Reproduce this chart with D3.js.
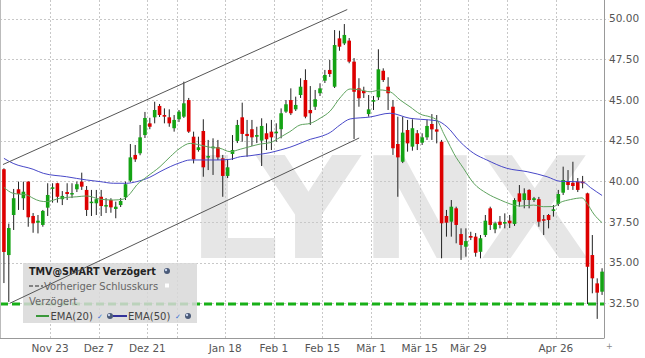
<!DOCTYPE html>
<html>
<head>
<meta charset="utf-8">
<script src="https://cdn.jsdelivr.net/npm/d3@7"></script>
<style>
  body { margin: 0; background: #fff; }
  text { font-family: "DejaVu Sans", Verdana, sans-serif; }
</style>
</head>
<body>
<div id="chart"></div>
<script>
// candles, one per trading day (index 0..123)
const opens = [40.74,35.47,37.93,39.51,38.96,39.98,37.87,37.46,37.32,38.38,39.55,39.88,38.9,39.34,39.2,39.51,39.98,39.47,38.69,38.65,
  39.05,38.48,38.85,38.3,38.54,39.02,40.04,41.62,41.72,42.84,43.56,43.93,44.63,44.07,43.93,43.26,43.81,43.97,44.99,42.74,
  41.92,43.09,41.47,42.03,42.09,41.41,40.33,41.68,42.48,43.93,42.91,43.2,42.74,42.5,42.95,43.05,42.95,43.2,44.28,44.99,
  44.42,45.3,46.22,44.38,44.58,45.41,46.18,46.84,45.81,48.78,48.47,48.64,47.35,45.71,45.56,44.13,44.89,45.16,46.79,45.81,
  44.58,42.29,41.2,43.15,42.13,42.95,42.37,42.7,43.52,43.19,42.43,37.87,37.52,38.34,36.76,35.98,36.64,36.6,35.67,36.7,
  38.34,37.05,37.52,37.4,37.58,37.38,39.26,38.85,39.47,38.85,38.9,37.67,37.93,38.18,38.61,39.3,39.98,39.91,39.98,39.98,
  39.26,35.47,33.73,33.22];
const highs = [40.8,37.4,39.53,39.98,39.98,40.0,38.05,37.93,38.24,39.88,39.88,39.91,39.4,39.88,39.88,39.98,40.53,39.71,39.47,39.47,
  39.47,38.97,38.96,38.75,38.97,39.98,42.29,42.23,43.46,44.26,43.9,44.89,44.75,44.48,44.42,44.07,44.38,46.12,45.12,43.05,
  42.74,43.81,42.54,42.64,42.54,41.62,41.31,42.84,43.77,44.83,43.77,43.77,43.35,43.87,43.56,43.77,43.56,44.48,44.99,45.71,
  45.2,46.33,46.88,45.85,45.61,46.02,46.84,47.45,49.29,49.25,49.66,48.8,47.57,46.33,45.81,45.3,45.24,48.11,46.94,46.39,
  44.99,43.97,43.97,43.77,43.81,43.15,42.95,43.77,44.13,44.07,42.54,38.24,38.85,38.44,37.11,37.11,36.9,36.82,36.7,37.93,
  38.44,37.52,37.87,38.03,37.93,38.96,39.77,39.57,39.51,39.04,39.04,37.93,37.99,38.54,39.47,40.9,40.69,41.2,40.2,40.33,
  39.3,36.7,34.04,34.66];
const lows = [33.75,32.59,37.01,38.24,38.24,37.21,36.84,36.8,37.21,37.87,38.69,38.69,38.54,38.85,38.97,39.34,39.47,37.87,37.87,37.93,
  37.87,38.05,38.07,37.73,38.42,38.85,39.96,41.19,41.6,42.66,43.2,43.56,43.95,43.56,43.35,43.05,43.64,43.89,42.97,41.1,
  41.82,40.28,40.69,40.39,41.31,39.05,40.2,41.31,42.35,42.43,41.51,42.17,42.35,40.94,41.92,41.92,42.43,42.64,44.2,44.07,
  44.32,45.12,43.87,43.46,44.38,45.24,46.04,46.41,45.73,48.02,48.37,47.25,42.6,44.58,45.12,43.97,44.38,44.99,46.1,44.38,
  41.62,39.05,41.12,41.82,41.88,41.92,42.23,42.54,42.54,42.33,35.27,36.6,36.6,36.19,35.17,35.37,36.39,35.37,35.27,36.58,
  37.01,36.81,37.11,37.11,37.13,37.26,38.44,38.34,38.34,38.73,37.21,36.7,37.11,37.83,38.48,39.16,39.47,39.47,39.34,39.57,
  32.46,33.12,31.55,33.02];
const closes = [35.66,37.13,38.96,39.22,39.36,37.79,37.42,37.58,38.18,39.16,39.63,39.05,39.1,39.22,39.28,39.82,39.67,38.24,38.75,38.9,
  38.48,38.54,38.4,38.44,38.79,39.82,41.47,41.35,42.7,43.89,43.35,44.38,44.07,43.97,43.56,43.77,44.28,44.79,43.05,41.35,
  42.09,40.86,41.55,42.13,41.47,40.33,40.86,41.92,43.46,42.91,42.78,42.7,42.84,43.4,42.58,42.7,43.05,44.18,44.73,44.18,
  44.69,45.81,43.97,44.18,45.04,45.71,46.53,46.59,48.37,48.27,48.99,47.35,45.5,45.1,45.41,44.42,44.99,46.88,46.22,45.41,
  42.03,41.47,42.99,42.33,43.26,42.29,42.7,43.4,43.19,43.05,37.42,37.46,38.44,37.32,36.09,36.33,36.54,35.61,36.5,37.58,
  37.32,37.42,37.32,37.5,37.42,38.85,38.75,39.26,38.85,38.96,37.52,37.58,37.62,38.28,39.22,40.08,39.77,39.71,39.47,39.88,
  34.75,34.04,33.16,34.45];

// EMA lines: [candle index, value]
const ema20 = [[0,39.63],[1.9,39.26],[4.7,39.16],[6,38.96],[7.4,38.79],[8.8,38.75],[11.5,38.96],[15,39.05],[17,39.1],[19.8,38.9],
  [22.5,38.85],[24.5,38.9],[26,39.26],[27.3,39.77],[29.4,40.28],[32.1,40.9],[34.2,41.51],[36.2,42.03],[38.3,42.33],[40.3,42.23],
  [42.4,42.09],[44.4,42.03],[46.5,41.82],[48.6,41.97],[50.6,42.13],[52.7,42.29],[54.7,42.37],[56.8,42.7],[58.8,43.05],[60.9,43.46],
  [63,43.56],[65,43.87],[67.1,44.32],[69.1,45.12],[71.2,45.67],[73.3,45.61],[75.3,45.5],[77.4,45.61],[79.4,45.5],[81.5,44.99],
  [83.5,44.58],[85.6,44.13],[87.7,43.95],[89,43.77],[90.4,42.95],[91.8,42.13],[92.5,41.72],[94.5,40.8],[96.6,39.88],[99.3,39.26],
  [102.1,38.85],[104.1,38.61],[106.2,38.48],[108.9,38.54],[111,38.44],[113,38.45],[114.4,38.7],[116.5,38.88],[118.9,38.98],[119.9,38.65],
  [121.3,37.99],[123,37.46]];
const ema50 = [[0,41.41],[1.9,41.1],[6,40.74],[8.1,40.49],[12.9,40.28],[17,40.08],[19.8,39.98],[22.5,39.88],[25.2,39.88],[27.3,39.98],
  [30,40.25],[32.1,40.59],[34.2,40.9],[36.2,41.14],[38.3,41.31],[40.3,41.31],[43.8,41.31],[46.5,41.35],[48.6,41.51],[50.6,41.57],
  [52.7,41.66],[54.7,41.76],[56.8,41.92],[58.8,42.09],[60.9,42.33],[63,42.58],[65,42.74],[67.1,43.0],[69.1,43.46],[71.2,43.83],
  [75.3,43.95],[79.4,44.18],[83.5,43.87],[85.6,43.81],[89,43.72],[91.1,43.35],[93.8,42.43],[96.6,41.72],[99.3,41.31],[103.4,40.8],
  [107.6,40.59],[111.7,40.28],[114.4,40.0],[117.2,39.98],[119.2,39.93],[120.6,39.62],[123,39.13]];

// trend channel drawn by hand on the chart
const upperChannel = [[-0.2,41.03],[70.6,50.55]];
const lowerChannel = [[1.23,32.51],[73.05,42.66]];
const prevClose = 32.47;

const tickIdx = [10,20,30,36,46,56,66,76,86,96,104,114];
const tickText = ["Nov 23","Dez 7","Dez 21","","Jan 18","Feb 1","Feb 15","Mär 1","Mär 15","Mär 29","","Apr 26"];
const yTicks = [32.5,35,37.5,40,42.5,45,47.5,50];

const W = 645, H = 358;
const plotRight = 604.5, plotBottom = 338;
const up = "#14a314", down = "#dd0000";

const svg = d3.select("#chart").append("svg")
  .attr("width", W).attr("height", H);

const defs = svg.append("defs");
defs.append("filter").attr("id", "blur")
  .attr("x", "-5%").attr("y", "-200%").attr("width", "110%").attr("height", "500%")
  .append("feGaussianBlur").attr("stdDeviation", 1.6);

const x = d3.scaleLinear().domain([0, opens.length]).range([1.5, plotRight]);
const y = d3.scaleLinear().domain([32.5, 50]).range([303.4, 18.5]);
const bodyW = 3.6;

// watermark
svg.append("text")
  .attr("x", 188).attr("y", 258)
  .attr("textLength", 402).attr("lengthAdjust", "spacingAndGlyphs")
  .style("font-size", "140px").style("font-weight", "bold")
  .style("fill", "#e6e6e6")
  .text("LYNX");

// grid
const grid = svg.append("g").attr("stroke", "#c8c8c8").attr("stroke-dasharray", "2,2").attr("stroke-width", 1);
grid.selectAll(".hg").data(yTicks).enter().append("line")
  .attr("x1", 0).attr("x2", plotRight + 4)
  .attr("y1", d => Math.round(y(d)) + 0.5).attr("y2", d => Math.round(y(d)) + 0.5);
grid.selectAll(".vg").data(tickIdx).enter().append("line")
  .attr("x1", d => Math.round(x(d)) + 0.5).attr("x2", d => Math.round(x(d)) + 0.5)
  .attr("y1", 0).attr("y2", plotBottom);

// candles
const idx = d3.range(opens.length);
const candles = svg.append("g");
candles.selectAll(".wick").data(idx).enter().append("line")
  .attr("x1", i => x(i + 0.5)).attr("x2", i => x(i + 0.5))
  .attr("y1", i => y(highs[i])).attr("y2", i => y(lows[i]))
  .attr("stroke", "#222").attr("stroke-width", 1);
candles.selectAll(".body").data(idx).enter().append("rect")
  .attr("x", i => x(i + 0.5) - bodyW / 2)
  .attr("width", bodyW)
  .attr("y", i => y(Math.max(opens[i], closes[i])))
  .attr("height", i => Math.max(1.5, Math.abs(y(opens[i]) - y(closes[i]))))
  .attr("fill", i => closes[i] >= opens[i] ? up : down);

// EMAs
const line = d3.line().x(d => x(d[0] + 0.5)).y(d => y(d[1]));
const smooth = d3.line().curve(d3.curveMonotoneX).x(d => x(d[0] + 0.5)).y(d => y(d[1]));
svg.append("path").datum(ema50).attr("d", smooth)
  .attr("fill", "none").attr("stroke", "#4848c8").attr("stroke-width", 1);
svg.append("path").datum(ema20).attr("d", smooth)
  .attr("fill", "none").attr("stroke", "#5ea35e").attr("stroke-width", 1);

// previous close, with soft shadow
svg.append("line")
  .attr("x1", 0).attr("x2", plotRight).attr("y1", y(prevClose) + 3).attr("y2", y(prevClose) + 3)
  .attr("stroke", "#888").attr("stroke-width", 3).attr("filter", "url(#blur)").attr("opacity", 0.7);
svg.append("line")
  .attr("x1", 0).attr("x2", plotRight).attr("y1", y(prevClose)).attr("y2", y(prevClose))
  .attr("stroke", "#18b018").attr("stroke-width", 3).attr("stroke-dasharray", "8,4");

// axes frame
svg.append("line").attr("x1", plotRight).attr("x2", plotRight).attr("y1", 0).attr("y2", plotBottom)
  .attr("stroke", "#999");
svg.append("line").attr("x1", 0).attr("x2", plotRight).attr("y1", plotBottom + 0.5).attr("y2", plotBottom + 0.5)
  .attr("stroke", "#999");
svg.append("line").attr("x1", 0.5).attr("x2", 0.5).attr("y1", 0).attr("y2", plotBottom)
  .attr("stroke", "#bbb");

svg.selectAll(".yl").data(yTicks).enter().append("text")
  .attr("x", 609).attr("y", d => y(d)).attr("dy", "0.36em")
  .style("font-size", "10.5px").style("fill", "#555")
  .text(d => d3.format(".2f")(d));

svg.selectAll(".xl").data(tickIdx).enter().append("text")
  .attr("x", d => x(d)).attr("y", 352)
  .attr("text-anchor", "middle")
  .style("font-size", "10.5px").style("fill", "#555")
  .text((d, i) => tickText[i]);

svg.append("text").attr("x", 606).attr("y", 349)
  .style("font-size", "8px").style("fill", "#888").text("+");

// legend
const lg = svg.append("g");
lg.append("rect").attr("x", 23).attr("y", 263).attr("width", 174).attr("height", 60)
  .attr("fill", "#d8d8d8").attr("opacity", 0.85);
lg.append("text").attr("x", 29).attr("y", 274.5)
  .style("font-size", "9.6px").style("font-weight", "bold").style("fill", "#222")
  .text("TMV@SMART Verzögert");
function icon(cx, cy) {
  lg.append("circle").attr("cx", cx).attr("cy", cy).attr("r", 3).attr("fill", "#4a5a78");
  lg.append("circle").attr("cx", cx - 1).attr("cy", cy - 1).attr("r", 1.2).attr("fill", "#c8d4ee");
}
icon(167, 271);
lg.append("line").attr("x1", 29).attr("x2", 43).attr("y1", 286).attr("y2", 286)
  .attr("stroke", "#666").attr("stroke-width", 1.5).attr("stroke-dasharray", "4,2");
lg.append("text").attr("x", 44).attr("y", 289.5)
  .style("font-size", "10px").style("fill", "#666").text("Vorheriger Schlusskurs");
lg.append("rect").attr("x", 164.5).attr("y", 283).attr("width", 5).attr("height", 5)
  .attr("fill", "#fff").attr("stroke", "#ddd");
lg.append("text").attr("x", 29).attr("y", 304.5)
  .style("font-size", "10px").style("fill", "#666").text("Verzögert");
lg.append("line").attr("x1", 36).attr("x2", 49).attr("y1", 316).attr("y2", 316)
  .attr("stroke", "#3a983a").attr("stroke-width", 2);
lg.append("text").attr("x", 50.5).attr("y", 319.5)
  .style("font-size", "10px").style("fill", "#444").text("EMA(20)");
lg.append("text").attr("x", 97).attr("y", 319)
  .style("font-size", "7px").style("fill", "#3b73d6").text("✓");
icon(110, 316);
lg.append("line").attr("x1", 113).attr("x2", 127).attr("y1", 316).attr("y2", 316)
  .attr("stroke", "#33339a").attr("stroke-width", 2);
lg.append("text").attr("x", 128).attr("y", 319.5)
  .style("font-size", "10px").style("fill", "#444").text("EMA(50)");
lg.append("text").attr("x", 175).attr("y", 319)
  .style("font-size", "7px").style("fill", "#3b73d6").text("✓");
icon(188, 316);

// channel lines sit above the legend box
[upperChannel, lowerChannel].forEach(c => {
  svg.append("path").datum(c).attr("d", line)
    .attr("fill", "none").attr("stroke", "#555").attr("stroke-width", 1);
});
</script>
</body>
</html>
